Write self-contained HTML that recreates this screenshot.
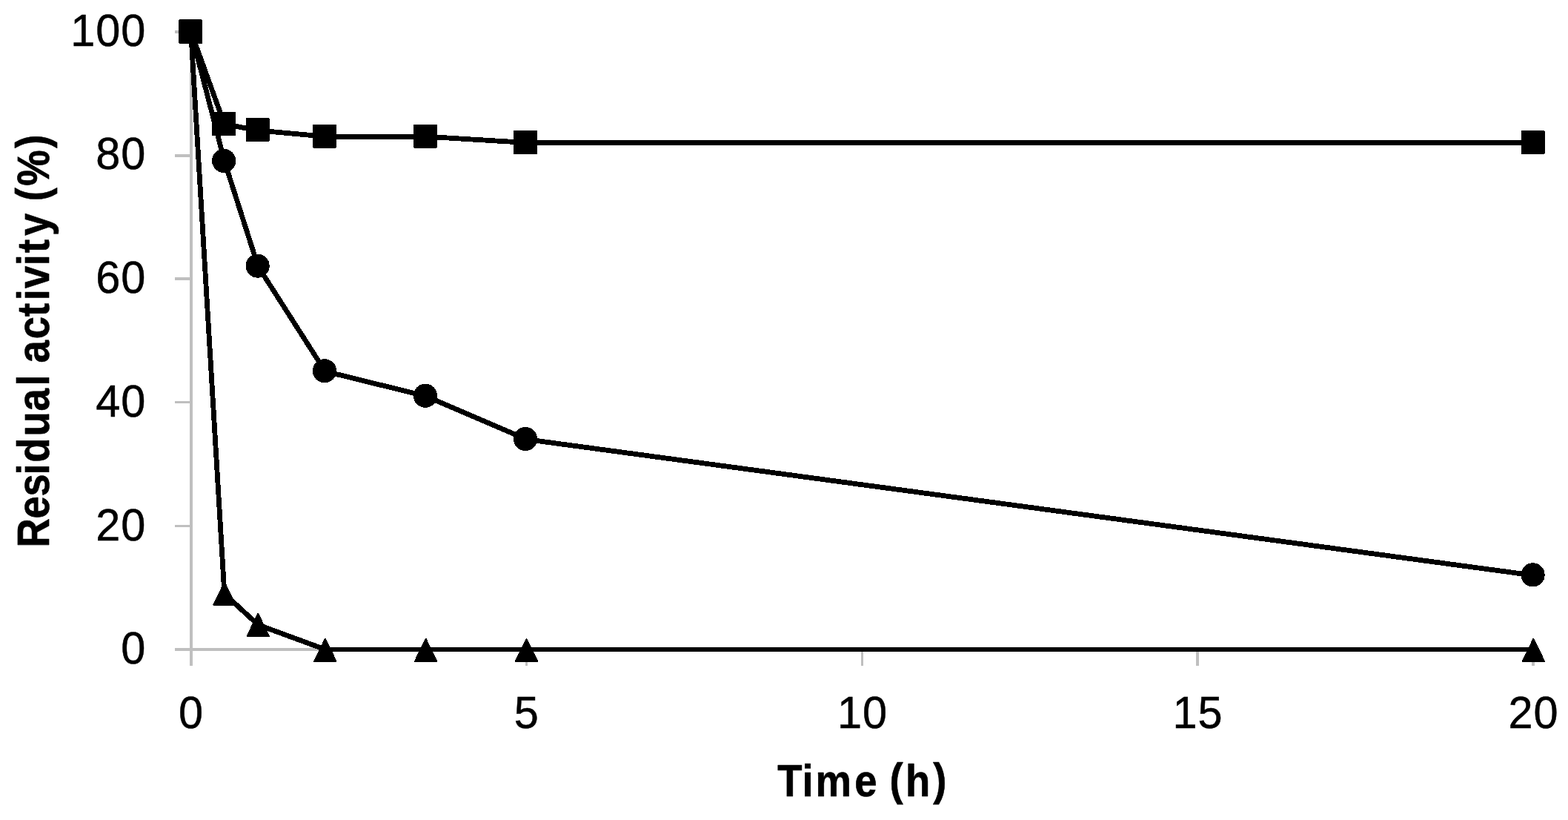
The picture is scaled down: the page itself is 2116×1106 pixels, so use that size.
<!DOCTYPE html>
<html lang="en">
<head>
<meta charset="utf-8">
<title>Residual activity (%) versus time (h)</title>
<style>
html,body{margin:0;padding:0;background:#fff;}
body{width:2116px;height:1106px;overflow:hidden;}
svg{display:block;}
text{font-family:"Liberation Sans",sans-serif;fill:#000;}
.tick{font-size:61px;letter-spacing:0.92px;stroke:#000;stroke-width:0.5px;}
.title{font-weight:bold;stroke:#000;stroke-width:0.7px;stroke-linejoin:round;}
.ax{stroke:#bfbfbf;stroke-width:4;fill:none;}
.ln{stroke:#000;stroke-width:6.8;fill:none;stroke-linejoin:round;stroke-linecap:butt;}
.mk{fill:#000;stroke:#000;stroke-width:2;stroke-linejoin:round;}
</style>
</head>
<body>
<svg width="2116" height="1106" viewBox="0 0 2116 1106">
<rect x="0" y="0" width="2116" height="1106" fill="#ffffff"/>

<g fill="#bfbfbf" shape-rendering="crispEdges">
<rect x="256" y="41" width="4" height="857"/>
<rect x="236" y="874" width="1835" height="4"/>
<rect x="236" y="41" width="20" height="4"/>
<rect x="236" y="208" width="20" height="4"/>
<rect x="236" y="374" width="20" height="4"/>
<rect x="236" y="541" width="20" height="3"/>
<rect x="236" y="708" width="20" height="3"/>
<rect x="709" y="878" width="3" height="20"/>
<rect x="1162" y="878" width="3" height="20"/>
<rect x="1614" y="878" width="4" height="20"/>
<rect x="2067" y="878" width="4" height="20"/>
</g>
<g shape-rendering="crispEdges">
<polyline class="ln" points="257.6,42.5 302.9,167.5 348.2,175.9 438.8,184.2 574.6,184.2 710.5,192.5 2069.1,192.5"/>
<polyline class="ln" points="257.6,42.5 302.9,217.5 348.2,359.2 438.8,500.9 574.6,534.3 710.5,592.6 2069.1,776.0"/>
<polyline class="ln" points="257.6,42.5 302.9,801.0 348.2,842.7 438.8,876.0 574.6,876.0 710.5,876.0 2069.1,876.0"/>
</g>
<g class="mk" shape-rendering="crispEdges">
<rect x="242.0" y="27.4" width="30" height="30"/>
<rect x="287.2" y="151.9" width="30" height="30"/>
<rect x="332.6" y="160.0" width="30" height="30"/>
<rect x="423.0" y="168.6" width="30" height="30"/>
<rect x="559.0" y="168.6" width="30" height="30"/>
<rect x="694.0" y="176.9" width="30" height="30"/>
<rect x="2053.6" y="176.9" width="30" height="30"/>
<circle cx="257.0" cy="41.9" r="15.1"/>
<circle cx="302.2" cy="216.9" r="15.1"/>
<circle cx="347.6" cy="358.6" r="15.1"/>
<circle cx="438.0" cy="500.3" r="15.1"/>
<circle cx="574.0" cy="533.7" r="15.1"/>
<circle cx="709.0" cy="592.0" r="15.1"/>
<circle cx="2068.6" cy="775.4" r="15.1"/>
<polygon points="257.6,28.3 272.2,58.4 243.0,58.4"/>
<polygon points="302.9,785.7 317.5,815.8 288.3,815.8"/>
<polygon points="348.2,827.8 362.8,857.9 333.6,857.9"/>
<polygon points="438.9,861.8 453.5,891.9 424.3,891.9"/>
<polygon points="574.6,861.8 589.2,891.9 560.0,891.9"/>
<polygon points="710.5,861.8 725.1,891.9 695.9,891.9"/>
<polygon points="2069.4,861.8 2084.0,891.9 2054.8,891.9"/>
</g>
<g class="tick" text-anchor="end">
<text transform="translate(197.3 62.1) scale(0.976 1)">100</text>
<text transform="translate(197.3 228.4) scale(0.976 1)">80</text>
<text transform="translate(197.3 395.3) scale(0.976 1)">60</text>
<text transform="translate(197.3 562.0) scale(0.976 1)">40</text>
<text transform="translate(197.3 728.7) scale(0.976 1)">20</text>
<text transform="translate(197.3 895.2) scale(0.976 1)">0</text>
</g>
<g class="tick" text-anchor="middle">
<text transform="translate(258.05 982.4) scale(0.976 1)">0</text>
<text transform="translate(710.85 982.4) scale(0.976 1)">5</text>
<text transform="translate(1164.05 982.4) scale(0.976 1)">10</text>
<text transform="translate(1616.50 982.4) scale(0.976 1)">15</text>
<text transform="translate(2069.40 982.4) scale(0.976 1)">20</text>
</g>
<text class="title" font-size="60.5" transform="translate(66.2 734.0) rotate(-90) scale(0.9 1)" x="-4.9 38.3 71.8 103.9 122.4 161.7 199.5 237.2 254.0 271.6 307.4 341.1 365.4 383.4 417.6 436.7 462.1 495.7 514.2 537.0 593.7" y="0 0 0 0 0 0 0 0 0 0 0 0 0 0 0 0 0 0 -1.8 0 -1.8">Residual activity (%)</text>
<text class="title" font-size="60.5" transform="translate(1000.0 1073.6) scale(0.9 1)" x="54.6 91.6 111.6 170.4 204.0 222.9 246.8 288.0" y="0 0 0 0 0 -1.8 0 -1.8">Time (h)</text>
</svg>
</body>
</html>
